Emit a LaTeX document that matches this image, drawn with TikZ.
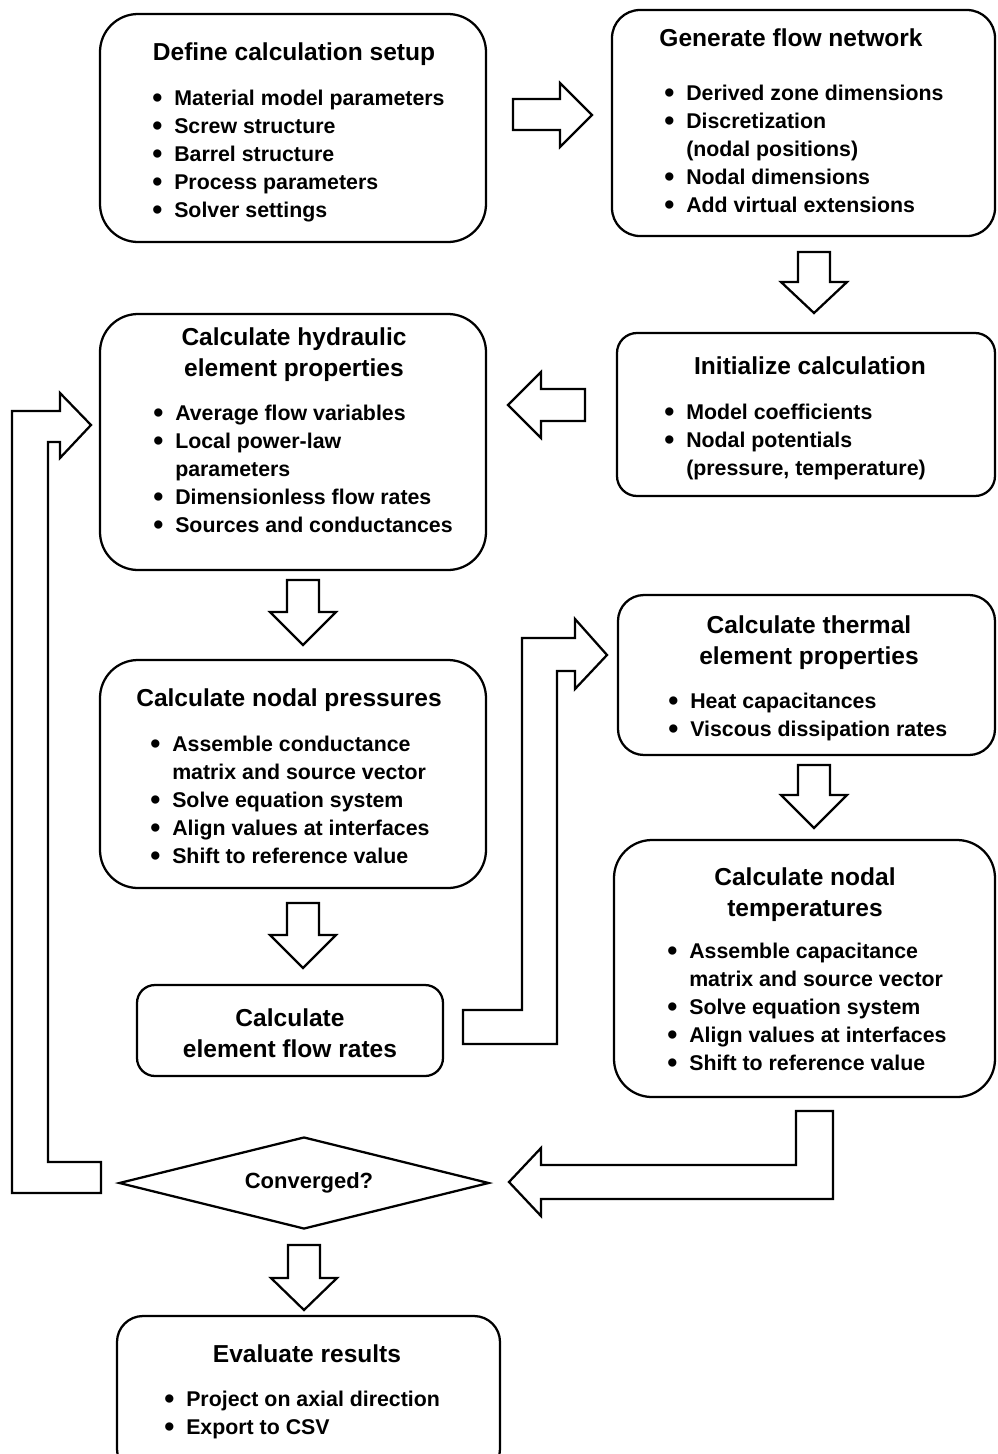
\documentclass[tikz,border=0pt]{standalone}
\usepackage{fontspec}
\usepackage{graphicx}
\setmainfont{Liberation Sans}
\usetikzlibrary{shapes.geometric}
\newcommand\tfont{\fontsize{18.4}{23.25}\selectfont\bfseries}
\newcommand\lfont{\fontsize{16}{21}\selectfont\bfseries}
\newcommand\bul{\makebox[16.5pt][l]{\raisebox{-0.1em}{\scalebox{1.35}{\textbullet}}}}
\newcommand\cnt{\hspace*{16.5pt}}
\newcommand\blist[1]{\begin{tabular}[t]{@{}l@{}}#1\end{tabular}}
\newcommand\bx[6]{\node[box, rounded corners=#6, minimum width={(#4-#2)*0.75pt}, minimum height={(#5-#3)*0.75pt}] (#1) at ({(#2+#4)/2},{(#3+#5)/2}) {};}
\begin{document}
\begin{tikzpicture}[x=0.75pt,y=-0.75pt,
  box/.style={draw, line width=1.7pt, rectangle, inner sep=0pt, outer sep=0pt},
  ttl/.style={anchor=base, align=center, inner sep=0pt, font=\tfont},
  lst/.style={anchor=base west, inner sep=0pt, font=\lfont},
  barrow/.style={draw, line width=1.7pt, fill=white, line join=miter}]
\useasboundingbox (0,0) rectangle (997,1454);

% boxes
\bx{b1}{100}{14}{486}{242}{28.5pt}
\bx{b2}{612}{10}{995}{236}{21pt}
\bx{b3}{617}{333}{995}{496}{15pt}
\bx{b4}{100}{314}{486}{570}{28.5pt}
\bx{b5}{100}{660}{486}{888}{28.5pt}
\bx{b6}{137}{985}{443}{1076}{13.5pt}
\bx{b7}{618}{595}{995}{755}{19.5pt}
\bx{b8}{614}{840}{995}{1097}{28.5pt}
\bx{b10}{117}{1316}{500}{1475}{19.5pt}

\node[draw, diamond, line width=1.7pt, minimum width={370*0.75pt}, minimum height={92*0.75pt}, inner sep=0pt] (conv) at (304,1183) {};
\node[inner sep=0pt, font=\fontsize{16.5}{20}\selectfont\bfseries] (convt) at (309,1183) {Converged?};

% titles (base = last line)
\node[ttl] (t1) at (294,60) {Define calculation setup};
\node[ttl] (t2) at (791,46) {Generate flow network};
\node[ttl] (t3) at (810,374) {Initialize calculation};
\node[ttl] (t4) at (294,376) {Calculate hydraulic\\element properties};
\node[ttl] (t5) at (289,706) {Calculate nodal pressures};
\node[ttl] (t6) at (290,1057) {Calculate\\element flow rates};
\node[ttl] (t7) at (809,664) {Calculate thermal\\element properties};
\node[ttl] (t8) at (805,916) {Calculate nodal\\temperatures};
\node[ttl] (t10) at (307,1362) {Evaluate results};

% lists
\node[lst] (l1) at (152,105) {\blist{\bul Material model parameters\\\bul Screw structure\\\bul Barrel structure\\\bul Process parameters\\\bul Solver settings}};
\node[lst] (l2) at (664,100) {\blist{\bul Derived zone dimensions\\\bul Discretization\\\cnt (nodal positions)\\\bul Nodal dimensions\\\bul Add virtual extensions}};
\node[lst] (l3) at (664,419) {\blist{\bul Model coefficients\\\bul Nodal potentials\\\cnt (pressure, temperature)}};
\node[lst] (l4) at (153,420) {\blist{\bul Average flow variables\\\bul Local power-law\\\cnt parameters\\\bul Dimensionless flow rates\\\bul Sources and conductances}};
\node[lst] (l5) at (150,751) {\blist{\bul Assemble conductance\\\cnt matrix and source vector\\\bul Solve equation system\\\bul Align values at interfaces\\\bul Shift to reference value}};
\node[lst] (l7) at (668,708) {\blist{\bul Heat capacitances\\\bul Viscous dissipation rates}};
\node[lst] (l8) at (667,958) {\blist{\bul Assemble capacitance\\\cnt matrix and source vector\\\bul Solve equation system\\\bul Align values at interfaces\\\bul Shift to reference value}};
\node[lst] (l10) at (164,1406) {\blist{\bul Project on axial direction\\\bul Export to CSV}};

% block arrows
\draw[barrow] (513,99) -- (560,99) -- (560,83) -- (592,115) -- (560,147) -- (560,130) -- (513,130) -- cycle;
\draw[barrow] (798,252) -- (830,252) -- (830,282) -- (847,282) -- (814,313) -- (781,282) -- (798,282) -- cycle;
\draw[barrow] (585,389) -- (541,389) -- (541,372) -- (508,405) -- (541,438) -- (541,421) -- (585,421) -- cycle;
\draw[barrow] (287,580) -- (319,580) -- (319,612) -- (336,612) -- (303,645) -- (270,612) -- (287,612) -- cycle;
\draw[barrow] (287,903) -- (319,903) -- (319,935) -- (336,935) -- (303,968) -- (270,935) -- (287,935) -- cycle;
\draw[barrow] (798,765) -- (830,765) -- (830,795) -- (847,795) -- (814,828) -- (781,795) -- (798,795) -- cycle;
\draw[barrow] (288,1245) -- (320,1245) -- (320,1278) -- (337,1278) -- (304,1310) -- (271,1278) -- (288,1278) -- cycle;
% bent arrows
\draw[barrow] (463,1010) -- (522,1010) -- (522,638) -- (575,638) -- (575,619) -- (607,655) -- (575,689) -- (575,671) -- (557,671) -- (557,1044) -- (463,1044) -- cycle;
\draw[barrow] (796,1111) -- (833,1111) -- (833,1199) -- (541,1199) -- (541,1216) -- (509,1182) -- (541,1148) -- (541,1165) -- (796,1165) -- cycle;
\draw[barrow] (12,411) -- (60,411) -- (60,393) -- (91,425) -- (60,458) -- (60,442) -- (48,442) -- (48,1162) -- (101,1162) -- (101,1193) -- (12,1193) -- cycle;
\end{tikzpicture}
\end{document}
